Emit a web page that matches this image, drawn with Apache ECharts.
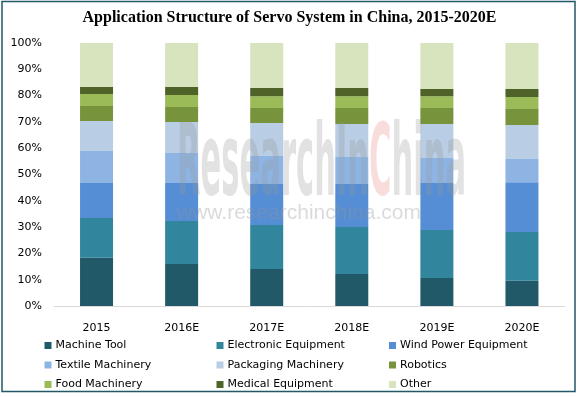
<!DOCTYPE html>
<html>
<head>
<meta charset="utf-8">
<script src="https://cdn.jsdelivr.net/npm/echarts@6/dist/echarts.min.js"></script>
<style>
  html, body { margin: 0; padding: 0; background: #fff; }
  #chart { width: 579px; height: 397px; }
</style>
</head>
<body>
<div id="chart"></div>
<script>
"use strict";
// categories (years)
var years = ['2015', '2016E', '2017E', '2018E', '2019E', '2020E'];

// share of each application, %
var machineTool      = [18.3, 16.0, 14.1, 12.2, 10.6, 9.6];
var electronicEquip  = [15.2, 16.3, 16.7, 17.8, 18.3, 18.5];
var windPowerEquip   = [13.3, 14.5, 15.6, 16.4, 17.9, 19.0];
var textileMachinery = [12.1, 11.4, 10.6, 10.3, 9.5, 8.8];
var packagingMach    = [11.4, 11.8, 12.6, 12.5, 12.9, 12.9];
var robotics         = [5.7, 5.7, 5.7, 6.1, 6.1, 6.1];
var foodMachinery    = [4.6, 4.5, 4.5, 4.5, 4.5, 4.6];
var medicalEquip     = [2.7, 3.1, 3.1, 3.1, 2.7, 3.0];
var other            = [16.7, 16.7, 17.1, 17.1, 17.5, 17.5];

var seriesNames = ['Machine Tool', 'Electronic Equipment', 'Wind Power Equipment',
    'Textile Machinery', 'Packaging Machinery', 'Robotics',
    'Food Machinery', 'Medical Equipment', 'Other'];
var seriesData = [machineTool, electronicEquip, windPowerEquip, textileMachinery,
    packagingMach, robotics, foodMachinery, medicalEquip, other];
var colors = ['#215968', '#31859C', '#558ED5', '#8EB4E3', '#B9CDE5',
    '#77933C', '#9BBB59', '#4F6228', '#D7E4BD'];

var myChart = echarts.init(document.getElementById('chart'));

var series = [];
for (var i = 0; i < seriesNames.length; i++) {
    series.push({
        name: seriesNames[i],
        type: 'bar',
        stack: 'total',
        barWidth: 33,
        itemStyle: {color: colors[i]},
        data: seriesData[i]
    });
}

// legend: one small legend per item, 3 columns x 3 rows
var legendLeft = [44.5, 216.5, 389];
var legendTop = [340, 359.5, 379];
var legends = [];
for (var k = 0; k < seriesNames.length; k++) {
    legends.push({
        left: legendLeft[k % 3],
        top: legendTop[Math.floor(k / 3)],
        padding: 0,
        itemWidth: 7,
        itemHeight: 7,
        itemGap: 0,
        icon: 'rect',
        data: [seriesNames[k]],
        textStyle: {fontFamily: 'DejaVu Sans', fontSize: 11, color: '#000', padding: [0, 0, 0, -1]}
    });
}

var option = {
    animation: false,
    color: colors,
    title: {
        text: 'Application Structure of Servo System in China, 2015-2020E',
        left: 'center',
        top: 5,
        textStyle: {fontFamily: 'Liberation Serif', fontWeight: 'bold', fontSize: 16, color: '#000'}
    },
    legend: legends,
    grid: {left: 54, right: 14.5, top: 43, bottom: 91},
    xAxis: {
        type: 'category',
        data: years,
        axisTick: {show: false},
        axisLine: {lineStyle: {color: '#D9D9D9', width: 1}},
        axisLabel: {fontFamily: 'DejaVu Sans', fontSize: 11, color: '#000', margin: 17}
    },
    yAxis: {
        type: 'value',
        min: 0,
        max: 100,
        interval: 10,
        splitLine: {show: false},
        axisLine: {show: false},
        axisTick: {show: false},
        axisLabel: {formatter: '{value}%', fontFamily: 'DejaVu Sans', fontSize: 11, color: '#000', margin: 12}
    },
    graphic: [
        {
            // frame
            type: 'rect',
            shape: {x: 2, y: 1.5, width: 573, height: 390},
            style: {fill: 'none', stroke: '#215968', lineWidth: 1.5},
            z: 100
        },
        {
            // watermark
            type: 'text',
            x: 177, y: 119,
            scaleX: 0.68, scaleY: 2,
            z: 100,
            style: {
                text: '{g|ResearchIn}{p|C}{g|hina}',
                rich: {
                    g: {fontFamily: 'DejaVu Sans Condensed', fontWeight: 'bold', fontSize: 50, fill: 'rgba(150,150,150,0.28)'},
                    p: {fontFamily: 'DejaVu Sans Condensed', fontWeight: 'bold', fontSize: 50, fill: 'rgba(235,130,130,0.28)'}
                }
            }
        },
        {
            type: 'text',
            x: 177, y: 203,
            z: 100,
            style: {
                text: 'www.researchinchina.com',
                font: '21px "Liberation Sans"',
                fill: 'rgba(150,150,150,0.35)'
            }
        }
    ],
    series: series
};

myChart.setOption(option);
</script>
</body>
</html>
